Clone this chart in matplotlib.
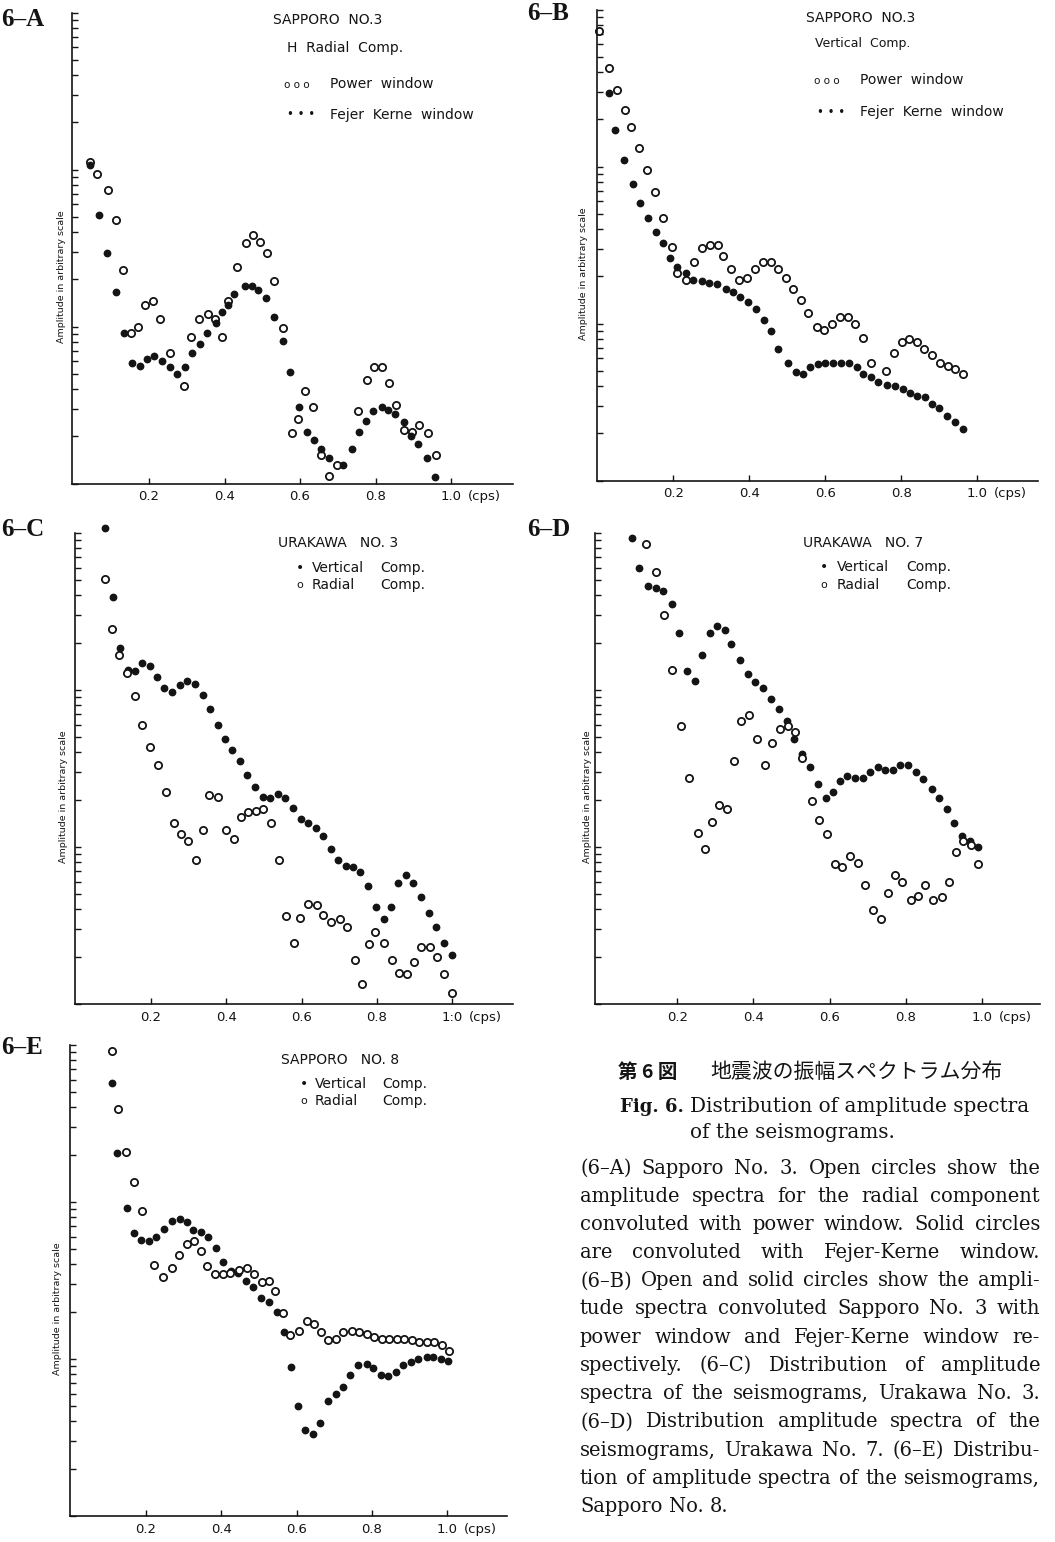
import matplotlib
matplotlib.use("Agg")
import matplotlib.pyplot as plt
import numpy as np

W, H = 1055, 1542

# frequency in cps, amplitude given as log10 of the arbitrary-scale amplitude

# 6-A  Sapporo No.3, H radial comp.
a_freq_open = [0.044, 0.062, 0.091, 0.113, 0.131, 0.152, 0.171, 0.189, 0.211, 0.229, 0.256,
               0.293, 0.311, 0.332, 0.356, 0.375, 0.393, 0.409, 0.433, 0.457, 0.475, 0.494,
               0.513, 0.531, 0.555, 0.579, 0.595, 0.613, 0.634, 0.656, 0.677, 0.698, 0.754,
               0.777, 0.796, 0.817, 0.836, 0.854, 0.876, 0.897, 0.915, 0.939, 0.960]
a_amp_open = [2.05, 1.97, 1.87, 1.68, 1.36, 0.96, 1.00, 1.14, 1.16, 1.05, 0.83,
              0.62, 0.93, 1.05, 1.08, 1.05, 0.93, 1.16, 1.38, 1.53, 1.58, 1.54,
              1.47, 1.29, 0.99, 0.32, 0.41, 0.59, 0.49, 0.18, 0.05, 0.12, 0.46,
              0.66, 0.74, 0.74, 0.64, 0.50, 0.34, 0.33, 0.37, 0.32, 0.18]
a_freq_solid = [0.044, 0.068, 0.089, 0.113, 0.134, 0.155, 0.176, 0.195, 0.213, 0.234, 0.256,
                0.274, 0.295, 0.314, 0.335, 0.354, 0.377, 0.393, 0.409, 0.425, 0.454, 0.473,
                0.489, 0.510, 0.531, 0.555, 0.573, 0.597, 0.618, 0.637, 0.656, 0.677, 0.714,
                0.738, 0.756, 0.775, 0.793, 0.817, 0.833, 0.852, 0.876, 0.894, 0.913, 0.936,
                0.957]
a_amp_solid = [2.03, 1.71, 1.47, 1.22, 0.96, 0.77, 0.75, 0.79, 0.81, 0.78, 0.74,
               0.70, 0.74, 0.83, 0.89, 0.96, 1.02, 1.09, 1.14, 1.21, 1.26, 1.26,
               1.23, 1.18, 1.06, 0.91, 0.71, 0.49, 0.33, 0.28, 0.22, 0.16, 0.12,
               0.22, 0.33, 0.40, 0.46, 0.49, 0.47, 0.44, 0.39, 0.30, 0.25, 0.16,
               0.04]

# 6-B  Sapporo No.3, vertical comp.
b_freq_open = [0.004, 0.030, 0.051, 0.072, 0.088, 0.109, 0.130, 0.151, 0.172, 0.196, 0.209,
               0.233, 0.254, 0.275, 0.296, 0.317, 0.330, 0.351, 0.372, 0.393, 0.414, 0.436,
               0.457, 0.475, 0.496, 0.514, 0.536, 0.554, 0.578, 0.596, 0.617, 0.638, 0.659,
               0.678, 0.699, 0.720, 0.759, 0.780, 0.801, 0.820, 0.841, 0.859, 0.880, 0.901,
               0.922, 0.941, 0.962]
b_amp_open = [2.86, 2.63, 2.49, 2.36, 2.25, 2.12, 1.98, 1.84, 1.67, 1.49, 1.32,
              1.28, 1.39, 1.48, 1.50, 1.50, 1.43, 1.35, 1.28, 1.29, 1.35, 1.39,
              1.39, 1.35, 1.29, 1.22, 1.15, 1.07, 0.98, 0.96, 1.00, 1.04, 1.04,
              1.00, 0.91, 0.75, 0.70, 0.81, 0.88, 0.90, 0.88, 0.84, 0.80, 0.75,
              0.73, 0.71, 0.68]
b_freq_solid = [0.030, 0.046, 0.070, 0.093, 0.112, 0.133, 0.154, 0.172, 0.191, 0.209, 0.233,
                0.251, 0.275, 0.293, 0.314, 0.338, 0.357, 0.375, 0.396, 0.417, 0.438, 0.457,
                0.475, 0.501, 0.522, 0.541, 0.559, 0.580, 0.599, 0.620, 0.641, 0.662, 0.683,
                0.699, 0.720, 0.738, 0.762, 0.783, 0.804, 0.822, 0.841, 0.862, 0.880, 0.899,
                0.920, 0.941, 0.962]
b_amp_solid = [2.47, 2.23, 2.04, 1.89, 1.77, 1.67, 1.58, 1.51, 1.42, 1.36, 1.32,
               1.28, 1.27, 1.26, 1.25, 1.22, 1.20, 1.17, 1.14, 1.09, 1.02, 0.95,
               0.84, 0.75, 0.69, 0.68, 0.72, 0.74, 0.75, 0.75, 0.75, 0.75, 0.72,
               0.68, 0.66, 0.63, 0.61, 0.60, 0.58, 0.56, 0.54, 0.53, 0.49, 0.46,
               0.41, 0.37, 0.33]

# 6-C  Urakawa No.3
c_freq_vert = [0.078, 0.099, 0.118, 0.139, 0.158, 0.176, 0.198, 0.216, 0.235, 0.256, 0.277,
               0.296, 0.317, 0.338, 0.357, 0.377, 0.397, 0.415, 0.436, 0.455, 0.476, 0.497,
               0.516, 0.537, 0.556, 0.577, 0.598, 0.617, 0.638, 0.656, 0.678, 0.696, 0.718,
               0.736, 0.755, 0.776, 0.797, 0.818, 0.837, 0.855, 0.877, 0.895, 0.917, 0.938,
               0.956, 0.977, 0.999]
c_amp_vert = [3.03, 2.59, 2.27, 2.13, 2.12, 2.17, 2.15, 2.08, 2.01, 1.99, 2.03,
              2.06, 2.04, 1.97, 1.88, 1.78, 1.69, 1.62, 1.55, 1.46, 1.38, 1.32,
              1.31, 1.34, 1.31, 1.25, 1.18, 1.15, 1.12, 1.07, 0.99, 0.92, 0.88,
              0.87, 0.84, 0.75, 0.62, 0.54, 0.62, 0.77, 0.82, 0.77, 0.68, 0.58,
              0.49, 0.39, 0.31]
c_freq_rad = [0.078, 0.097, 0.115, 0.137, 0.158, 0.176, 0.198, 0.219, 0.240, 0.261, 0.280,
              0.298, 0.320, 0.338, 0.354, 0.378, 0.399, 0.420, 0.439, 0.458, 0.479, 0.497,
              0.519, 0.540, 0.558, 0.580, 0.596, 0.617, 0.641, 0.656, 0.678, 0.702, 0.720,
              0.741, 0.760, 0.779, 0.795, 0.818, 0.840, 0.858, 0.879, 0.898, 0.916, 0.940,
              0.959, 0.977, 0.999]
c_amp_rad = [2.71, 2.39, 2.22, 2.11, 1.96, 1.78, 1.64, 1.52, 1.35, 1.15, 1.08,
             1.04, 0.92, 1.11, 1.33, 1.32, 1.11, 1.05, 1.19, 1.22, 1.23, 1.24,
             1.15, 0.92, 0.56, 0.39, 0.55, 0.64, 0.63, 0.57, 0.52, 0.54, 0.49,
             0.28, 0.13, 0.38, 0.46, 0.39, 0.28, 0.20, 0.19, 0.27, 0.36, 0.36,
             0.30, 0.19, 0.07]

# 6-D  Urakawa No.7
d_freq_vert = [0.081, 0.100, 0.123, 0.144, 0.163, 0.186, 0.205, 0.226, 0.247, 0.265, 0.286,
               0.304, 0.325, 0.341, 0.365, 0.386, 0.404, 0.425, 0.446, 0.467, 0.488, 0.507,
               0.528, 0.549, 0.570, 0.591, 0.609, 0.627, 0.646, 0.667, 0.688, 0.706, 0.727,
               0.745, 0.766, 0.785, 0.806, 0.827, 0.845, 0.869, 0.887, 0.908, 0.927, 0.948,
               0.969, 0.990]
d_amp_vert = [2.97, 2.78, 2.66, 2.65, 2.63, 2.55, 2.36, 2.12, 2.06, 2.22, 2.36,
              2.41, 2.38, 2.29, 2.19, 2.10, 2.05, 2.01, 1.94, 1.88, 1.80, 1.69,
              1.59, 1.51, 1.40, 1.31, 1.35, 1.42, 1.45, 1.44, 1.44, 1.48, 1.51,
              1.49, 1.49, 1.52, 1.52, 1.48, 1.43, 1.37, 1.31, 1.24, 1.15, 1.07,
              1.04, 1.00]
d_freq_rad = [0.118, 0.144, 0.165, 0.186, 0.210, 0.231, 0.255, 0.273, 0.291, 0.310, 0.331,
              0.349, 0.367, 0.388, 0.409, 0.430, 0.449, 0.470, 0.491, 0.509, 0.528, 0.554,
              0.572, 0.593, 0.614, 0.633, 0.654, 0.675, 0.693, 0.714, 0.735, 0.753, 0.772,
              0.790, 0.814, 0.832, 0.850, 0.871, 0.895, 0.913, 0.932, 0.950, 0.971, 0.990]
d_amp_rad = [2.93, 2.75, 2.48, 2.13, 1.77, 1.44, 1.09, 0.99, 1.16, 1.27, 1.24,
             1.55, 1.80, 1.84, 1.69, 1.52, 1.66, 1.75, 1.77, 1.73, 1.57, 1.29,
             1.17, 1.08, 0.89, 0.87, 0.94, 0.90, 0.76, 0.60, 0.54, 0.71, 0.82,
             0.78, 0.66, 0.69, 0.76, 0.66, 0.68, 0.78, 0.97, 1.04, 1.01, 0.89]

# 6-E  Sapporo No.8
e_freq_vert = [0.110, 0.123, 0.150, 0.168, 0.187, 0.208, 0.227, 0.248, 0.269, 0.290, 0.309,
               0.325, 0.346, 0.365, 0.386, 0.405, 0.426, 0.444, 0.466, 0.484, 0.505, 0.527,
               0.548, 0.566, 0.585, 0.603, 0.622, 0.643, 0.662, 0.683, 0.704, 0.723, 0.741,
               0.763, 0.786, 0.802, 0.824, 0.842, 0.863, 0.882, 0.903, 0.922, 0.946, 0.961,
               0.982, 1.001]
e_amp_vert = [2.76, 2.31, 1.96, 1.80, 1.76, 1.75, 1.78, 1.83, 1.88, 1.89, 1.87,
              1.82, 1.81, 1.78, 1.71, 1.62, 1.56, 1.55, 1.50, 1.46, 1.39, 1.36,
              1.30, 1.17, 0.95, 0.70, 0.55, 0.52, 0.59, 0.73, 0.78, 0.82, 0.90,
              0.96, 0.97, 0.94, 0.90, 0.89, 0.92, 0.96, 0.98, 1.00, 1.01, 1.01,
              1.00, 0.99]
e_freq_rad = [0.110, 0.126, 0.147, 0.168, 0.190, 0.221, 0.245, 0.269, 0.288, 0.309, 0.328,
              0.346, 0.362, 0.383, 0.405, 0.423, 0.447, 0.468, 0.487, 0.508, 0.527, 0.542,
              0.564, 0.582, 0.606, 0.627, 0.646, 0.665, 0.683, 0.704, 0.723, 0.747, 0.765,
              0.786, 0.805, 0.826, 0.845, 0.866, 0.885, 0.906, 0.924, 0.946, 0.964, 0.985,
              1.003]
e_amp_rad = [2.96, 2.59, 2.32, 2.13, 1.94, 1.60, 1.52, 1.58, 1.66, 1.73, 1.75,
             1.69, 1.59, 1.54, 1.54, 1.55, 1.57, 1.58, 1.54, 1.49, 1.50, 1.43,
             1.29, 1.15, 1.18, 1.24, 1.22, 1.17, 1.12, 1.13, 1.17, 1.18, 1.17,
             1.16, 1.14, 1.13, 1.13, 1.13, 1.13, 1.12, 1.11, 1.11, 1.11, 1.09,
             1.05]

tick_vals = [0.2, 0.4, 0.6, 0.8, 1.0]
tick_labels = ["0.2", "0.4", "0.6", "0.8", "1.0"]
tick_labels_c = ["0.2", "0.4", "0.6", "0.8", "1:0"]

INK = "#141414"
SERIF = "DejaVu Serif"
plt.rcParams['font.family'] = ['DejaVu Sans']

fig = plt.figure(figsize=(W / 100, H / 100), dpi=100)
fig.patch.set_facecolor("white")
renderer = fig.canvas.get_renderer()


def ftxt(px, py, s, **kw):
    kw.setdefault("va", "center")
    kw.setdefault("ha", "left")
    kw.setdefault("color", INK)
    return fig.text(px / W, 1 - py / H, s, **kw)


def fit_size(s, width, family, base=14, **kw):
    t = fig.text(0, 0, s, fontsize=base, family=family, **kw)
    w = t.get_window_extent(renderer).width
    t.remove()
    return base * width / w


def panel(box, x_left, labels, ylab_x):
    # box in pixels: left spine, bottom, right end, top, pixels per cps
    left, bottom, right, top, scale = box
    ax = fig.add_axes([left / W, 1 - bottom / H, (right - left) / W, (bottom - top) / H])
    ax.set_xlim(x_left, x_left + (right - left) / scale)
    ax.set_ylim(0, 3)
    ax.patch.set_alpha(0)
    for s in ["top", "right"]:
        ax.spines[s].set_visible(False)
    for s in ["left", "bottom"]:
        ax.spines[s].set_linewidth(1.2)
        ax.spines[s].set_color(INK)
    ax.set_xticks(tick_vals)
    ax.set_xticklabels(labels)
    yt = [np.log10(k) + n for n in range(3) for k in range(1, 10)] + [3.0]
    ax.set_yticks(yt)
    ax.set_yticklabels([])
    ax.tick_params(direction="in", length=4.5, width=1, color=INK)
    ax.tick_params(axis="x", labelsize=9.5, pad=5, labelcolor=INK)
    ax.annotate("(cps)", xy=(1.0, 0), xycoords=("data", "axes fraction"),
                xytext=(12, -5), textcoords="offset points", ha="left", va="top",
                fontsize=9.5, color=INK)
    ax.text((ylab_x - left) / (right - left), 0.44, "Amplitude in arbitrary scale",
            transform=ax.transAxes, rotation=90, ha="center", va="center",
            fontsize=6.8, color=INK)
    return ax


def open_pts(ax, x, y):
    ax.plot(x, y, ls="none", marker="o", ms=5.2, mfc="white", mec=INK, mew=1.3, clip_on=False)


def solid_pts(ax, x, y):
    ax.plot(x, y, ls="none", marker="o", ms=4.6, mfc=INK, mec=INK, clip_on=False)


# ---- 6-A
axA = panel((72, 483.5, 513, 12.5, 377.5), -0.004, tick_labels, 61)
open_pts(axA, a_freq_open, a_amp_open)
solid_pts(axA, a_freq_solid, a_amp_solid)

# ---- 6-B
axB = panel((597, 480.5, 1038, 9.5, 380), -0.001, tick_labels, 584)
open_pts(axB, b_freq_open, b_amp_open)
solid_pts(axB, b_freq_solid, b_amp_solid)

# ---- 6-C
axC = panel((75, 1004, 513, 533, 377), -0.001, tick_labels_c, 64)
solid_pts(axC, c_freq_vert, c_amp_vert)
open_pts(axC, c_freq_rad, c_amp_rad)

# ---- 6-D
axD = panel((595, 1004, 1040, 533, 381), -0.016, tick_labels, 587)
solid_pts(axD, d_freq_vert, d_amp_vert)
open_pts(axD, d_freq_rad, d_amp_rad)

# ---- 6-E
axE = panel((70, 1516, 507, 1045, 377), -0.001, tick_labels, 58)
solid_pts(axE, e_freq_vert, e_amp_vert)
open_pts(axE, e_freq_rad, e_amp_rad)

# panel tags
tag = dict(fontsize=18, fontweight="bold", family="Liberation Serif")
ftxt(1, 20, "6–A", **tag)
ftxt(527, 14, "6–B", **tag)
ftxt(1, 530, "6–C", **tag)
ftxt(527, 530, "6–D", **tag)
ftxt(1, 1047, "6–E", **tag)

# in-panel legends
lf = 10
ftxt(273, 20, "SAPPORO  NO.3", fontsize=lf)
ftxt(287, 48, "H  Radial  Comp.", fontsize=lf)
ftxt(284, 85, "o o o", fontsize=7.5)
ftxt(330, 84, "Power  window", fontsize=lf)
ftxt(287, 115, "• • •", fontsize=8.5)
ftxt(330, 115, "Fejer  Kerne  window", fontsize=lf)

ftxt(806, 18, "SAPPORO  NO.3", fontsize=lf)
ftxt(815, 44, "Vertical  Comp.", fontsize=lf - 1)
ftxt(814, 81, "o o o", fontsize=7.5)
ftxt(860, 80, "Power  window", fontsize=lf)
ftxt(817, 112, "• • •", fontsize=8.5)
ftxt(860, 112, "Fejer  Kerne  window", fontsize=lf)

ftxt(278, 543, "URAKAWA   NO. 3", fontsize=lf)
ftxt(296, 568, "•", fontsize=10)
ftxt(312, 568, "Vertical", fontsize=lf)
ftxt(380, 568, "Comp.", fontsize=lf)
ftxt(296, 585, "o", fontsize=8)
ftxt(312, 585, "Radial", fontsize=lf)
ftxt(380, 585, "Comp.", fontsize=lf)

ftxt(803, 543, "URAKAWA   NO. 7", fontsize=lf)
ftxt(820, 567, "•", fontsize=10)
ftxt(837, 567, "Vertical", fontsize=lf)
ftxt(906, 567, "Comp.", fontsize=lf)
ftxt(820, 585, "o", fontsize=8)
ftxt(837, 585, "Radial", fontsize=lf)
ftxt(906, 585, "Comp.", fontsize=lf)

ftxt(281, 1060, "SAPPORO   NO. 8", fontsize=lf)
ftxt(300, 1084, "•", fontsize=10)
ftxt(315, 1084, "Vertical", fontsize=lf)
ftxt(382, 1084, "Comp.", fontsize=lf)
ftxt(300, 1101, "o", fontsize=8)
ftxt(315, 1101, "Radial", fontsize=lf)
ftxt(382, 1101, "Comp.", fontsize=lf)

# caption
ftxt(618, 1072, "第 6 図", fontsize=14, fontweight="bold", family=["Noto Sans CJK JP"])
ftxt(710, 1072, "地震波の振幅スペクトラム分布", fontsize=15, family=["Noto Sans CJK JP"])
head_fs = fit_size("Distribution of amplitude spectra", 340, SERIF)
ftxt(684, 1107, "Fig. 6.", fontsize=head_fs * 0.9, fontweight="bold", family=SERIF, ha="right")
ftxt(690, 1107, "Distribution of amplitude spectra", fontsize=head_fs, family=SERIF)
ftxt(690, 1133, "of the seismograms.", fontsize=head_fs, family=SERIF)

body = [
    "(6–A) Sapporo No. 3. Open circles show the",
    "amplitude spectra for the radial component",
    "convoluted with power window. Solid circles",
    "are convoluted with Fejer-Kerne window.",
    "(6–B) Open and solid circles show the ampli-",
    "tude spectra convoluted Sapporo No. 3 with",
    "power window and Fejer-Kerne window re-",
    "spectively. (6–C) Distribution of amplitude",
    "spectra of the seismograms, Urakawa No. 3.",
    "(6–D) Distribution amplitude spectra of the",
    "seismograms, Urakawa No. 7. (6–E) Distribu-",
    "tion of amplitude spectra of the seismograms,",
    "Sapporo No. 8.",
]

bx0, bx1 = 580, 1040
# the tightest line sets the size at natural spacing, the others are justified
body_fs = min(fit_size(s, bx1 - bx0 - 2, SERIF) for s in body[:-1])

for i, line in enumerate(body):
    y = 1168 + 28.2 * i
    words = line.split(" ")
    items = [ftxt(0, y, w, fontsize=body_fs, family=SERIF) for w in words]
    widths = [t.get_window_extent(renderer).width for t in items]
    if i == len(body) - 1:
        gap = body_fs * 1.389 * 0.32
    else:
        gap = (bx1 - bx0 - sum(widths)) / (len(words) - 1)
    x = bx0
    for t, w in zip(items, widths):
        t.set_position((x / W, 1 - y / H))
        x += w + gap

fig.savefig("out.png", dpi=100, facecolor="white")
